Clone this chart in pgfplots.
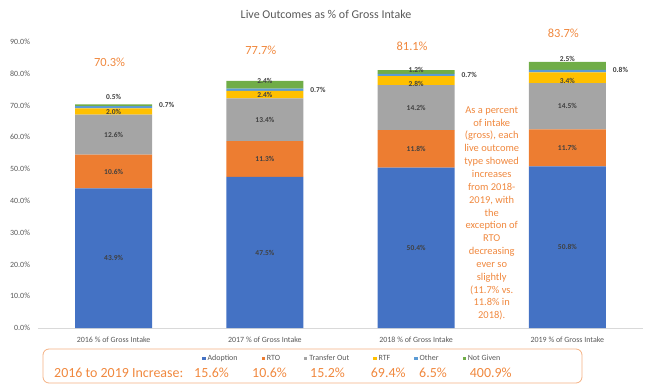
\documentclass[border=0pt]{standalone}
\usepackage{fontspec}
\setmainfont{Carlito}
\usepackage{pgfplots}
\usepackage{pgfplotstable}
\pgfplotsset{compat=1.18}

\definecolor{cAdopt}{HTML}{4472C4}
\definecolor{cRTO}{HTML}{ED7D31}
\definecolor{cTrans}{HTML}{A5A5A5}
\definecolor{cRTF}{HTML}{FFC000}
\definecolor{cOther}{HTML}{5B9BD5}
\definecolor{cNG}{HTML}{70AD47}
\definecolor{txt}{HTML}{595959}
\definecolor{lbl}{HTML}{404040}
\definecolor{orng}{HTML}{F0883E}
\definecolor{boxc}{HTML}{F4B183}
\definecolor{axc}{HTML}{D9D9D9}

\pgfplotstableread{
x adopt rto trans rtf other ng
0 43.9 10.6 12.6 2.0 0.7 0.5
1 47.5 11.3 13.4 2.4 0.7 2.4
2 50.4 11.8 14.2 2.8 0.7 1.2
3 50.8 11.7 14.5 3.4 0.8 2.5
}\outcomes

\pgfplotstableread{
x y v
0 21.95 43.9
1 23.75 47.5
2 25.2 50.4
3 25.4 50.8
0 49.2 10.6
1 53.15 11.3
2 56.3 11.8
3 56.65 11.7
0 60.8 12.6
1 65.5 13.4
2 69.3 14.2
3 69.75 14.5
0 68.0 2.0
1 73.3 2.4
2 76.6 2.8
3 77.7 3.4
0 72.7 0.5
1 77.8 2.4
2 81.1 1.2
3 84.5 2.5
}\inlabels

\pgfplotstableread{
x y v
0.30 70.1 0.7
1.30 74.8 0.7
2.30 79.6 0.7
3.30 81.1 0.8
}\otherlabels

\pgfplotstableread{
x y v
0 83.7 70.3
1 87.4 77.7
2 88.5 81.1
3 92.7 83.7
}\totals

\begin{document}
\begin{tikzpicture}
\useasboundingbox (0,0) rectangle (648bp,386bp);
\begin{axis}[
  at={(38bp,58bp)}, anchor=south west,
  scale only axis, width=605bp, height=302.1bp,
  xmin=-0.5, xmax=3.5, ymin=0, ymax=95,
  ybar stacked, bar width=77bp,
  axis lines*=left,
  y axis line style={draw=none},
  x axis line style={draw=axc},
  major tick length=0pt,
  xtick={0,1,2,3},
  xticklabels={2016 \% of Gross Intake, 2017 \% of Gross Intake, 2018 \% of Gross Intake, 2019 \% of Gross Intake},
  ytick={0,10,20,30,40,50,60,70,80,90},
  yticklabels={0.0\%,10.0\%,20.0\%,30.0\%,40.0\%,50.0\%,60.0\%,70.0\%,80.0\%,90.0\%},
  tick label style={font=\fontsize{8}{9.6}\selectfont, text=txt},
  yticklabel style={xshift=-4.5bp},
  xticklabel style={yshift=-5bp},
  legend columns=6,
  legend style={draw=none, fill=none, inner sep=0pt, outer sep=0pt,
    at={(axis description cs:0.2716,-0.1003)}, anchor=west,
    font=\fontsize{8}{9.6}\selectfont, text=txt,
    /tikz/every even column/.append style={column sep=22bp}},
  legend image code/.code={\fill[#1,draw=none] (0bp,-1.65bp) rectangle (3.3bp,1.65bp);},
  clip=false,
]
\addplot[fill=cAdopt, draw=none] table[x=x,y=adopt]{\outcomes};
\addlegendentry{Adoption}
\addplot[fill=cRTO, draw=none] table[x=x,y=rto]{\outcomes};
\addlegendentry{RTO}
\addplot[fill=cTrans, draw=none] table[x=x,y=trans]{\outcomes};
\addlegendentry{Transfer Out}
\addplot[fill=cRTF, draw=none] table[x=x,y=rtf]{\outcomes};
\addlegendentry{RTF}
\addplot[fill=cOther, draw=none] table[x=x,y=other]{\outcomes};
\addlegendentry{Other}
\addplot[fill=cNG, draw=none] table[x=x,y=ng]{\outcomes};
\addlegendentry{Not Given}
\end{axis}

\begin{axis}[
  at={(38bp,58bp)}, anchor=south west,
  scale only axis, width=605bp, height=302.1bp,
  xmin=-0.5, xmax=3.5, ymin=0, ymax=95,
  hide axis, clip=false,
  /pgf/number format/assume math mode=true,
  point meta=explicit,
  nodes near coords={\pgfmathprintnumber[fixed,fixed zerofill,precision=1]{\pgfplotspointmeta}\%},
]
\addplot[draw=none, mark=none,
  every node near coord/.append style={anchor=center, inner sep=0pt, font=\bfseries\fontsize{7.5}{9}\selectfont, text=lbl}]
  table[x=x,y=y,meta=v]{\inlabels};
\addplot[draw=none, mark=none,
  every node near coord/.append style={anchor=west, inner sep=0pt, font=\bfseries\fontsize{7.5}{9}\selectfont, text=lbl}]
  table[x=x,y=y,meta=v]{\otherlabels};
\addplot[draw=none, mark=none,
  every node near coord/.append style={anchor=center, inner sep=0pt, xshift=-4bp, font=\fontsize{12.5}{15}\selectfont, text=orng}]
  table[x=x,y=y,meta=v]{\totals};
\end{axis}

\node[font=\fontsize{12}{14}\selectfont, text=txt] at (326bp,371.7bp) {Live Outcomes as \% of Gross Intake};

\node[align=center, font=\fontsize{10.5}{12.9}\selectfont, text=orng] at (491.7bp,172.6bp)
 {As a percent\\of intake\\(gross), each\\live outcome\\type showed\\increases\\from 2018-\\2019, with\\the\\exception of\\RTO\\decreasing\\ever so\\slightly\\(11.7\% vs.\\11.8\% in\\2018).};

\draw[boxc, line width=0.8bp, rounded corners=6bp] (43bp,3bp) rectangle (582bp,37bp);
\begin{scope}[every node/.style={anchor=west, inner sep=0pt, font=\fontsize{14}{16}\selectfont, text=orng}]
\node at (54bp,12.7bp) {2016 to 2019 Increase:};
\node at (194bp,12.7bp) {15.6\%};
\node at (252bp,12.7bp) {10.6\%};
\node at (310bp,12.7bp) {15.2\%};
\node at (370.7bp,12.7bp) {69.4\%};
\node at (419bp,12.7bp) {6.5\%};
\node at (469.7bp,12.7bp) {400.9\%};
\end{scope}
\end{tikzpicture}
\end{document}
